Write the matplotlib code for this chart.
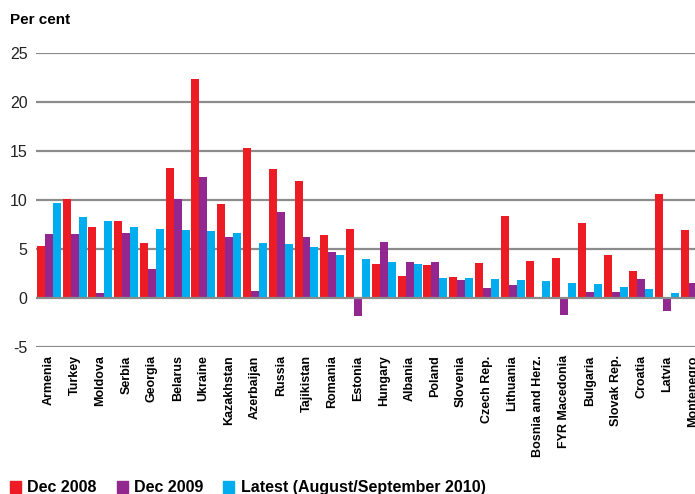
import numpy as np
import matplotlib.pyplot as plt
from matplotlib.patches import Patch

countries = ["Armenia", "Turkey", "Moldova", "Serbia", "Georgia", "Belarus", "Ukraine",
             "Kazakhstan", "Azerbaijan", "Russia", "Tajikistan", "Romania", "Estonia",
             "Hungary", "Albania", "Poland", "Slovenia", "Czech Rep.", "Lithuania",
             "Bosnia and Herz.", "FYR Macedonia", "Bulgaria", "Slovak Rep.", "Croatia",
             "Latvia", "Montenegro"]
dec_2008 = [5.3, 10.1, 7.2, 7.9, 5.6, 13.3, 22.3, 9.6, 15.3, 13.2, 11.9, 6.4, 7.0,
            3.5, 2.2, 3.4, 2.1, 3.6, 8.4, 3.8, 4.1, 7.7, 4.4, 2.8, 10.6, 6.9]
dec_2009 = [6.5, 6.5, 0.5, 6.6, 3.0, 10.1, 12.3, 6.2, 0.7, 8.8, 6.2, 4.7, -1.8,
            5.7, 3.7, 3.7, 1.8, 1.0, 1.3, 0.0, -1.7, 0.6, 0.6, 1.9, -1.3, 1.5]
latest = [9.7, 8.3, 7.9, 7.2, 7.0, 6.9, 6.8, 6.6, 5.6, 5.5, 5.2, 4.4, 4.0,
          3.7, 3.5, 2.0, 2.0, 1.9, 1.8, 1.7, 1.5, 1.4, 1.1, 0.9, 0.5, np.nan]
series_names = ["Dec 2008", "Dec 2009", "Latest (August/September 2010)"]
colors = ["#ED1C24", "#92278F", "#00AEEF"]

plt.rcParams["font.family"] = ["Liberation Sans", "DejaVu Sans"]

fig = plt.figure(figsize=(6.95, 4.94), dpi=100)
ax = fig.add_axes([36 / 695, (494 - 347) / 494, 1 - 36 / 695, (347 - 53) / 494])

x = np.arange(len(countries))
w = 0.31
for i, (vals, c) in enumerate(zip([dec_2008, dec_2009, latest], colors)):
    ax.bar(x + (i - 1) * w, vals, width=w, color=c, zorder=2, linewidth=0)

for y in range(-5, 30, 5):
    ax.axhline(y, color="#8c8c8c", lw=1.6, zorder=3 if y == 0 else 1)

ax.set_xlim(-0.5, 25.08)
ax.set_ylim(-5, 25)
ax.set_yticks(range(-5, 30, 5))
ax.set_yticklabels([str(v) for v in range(-5, 30, 5)], fontsize=11.5, color="#222222")
ax.set_xticks(x)
ax.set_xticklabels(countries, rotation=90, fontsize=9, fontweight="bold")
ax.tick_params(length=0, axis="y", pad=6)
ax.tick_params(length=0, axis="x", pad=6)
for s in ax.spines.values():
    s.set_visible(False)

fig.text(10 / 695, 1 - 20 / 494, "Per cent", fontsize=11, fontweight="bold",
         va="center", ha="left")

handles = [Patch(color=c) for c in colors]
fig.legend(handles, series_names, loc="lower left", bbox_to_anchor=(0.012, -0.006),
           ncol=3, frameon=False, borderpad=0.1, borderaxespad=0,
           handlelength=0.69, handleheight=0.75,
           handletextpad=0.4, columnspacing=1.25,
           prop={"size": 11.5, "weight": "bold"})

fig.savefig("out.png", dpi=100)
